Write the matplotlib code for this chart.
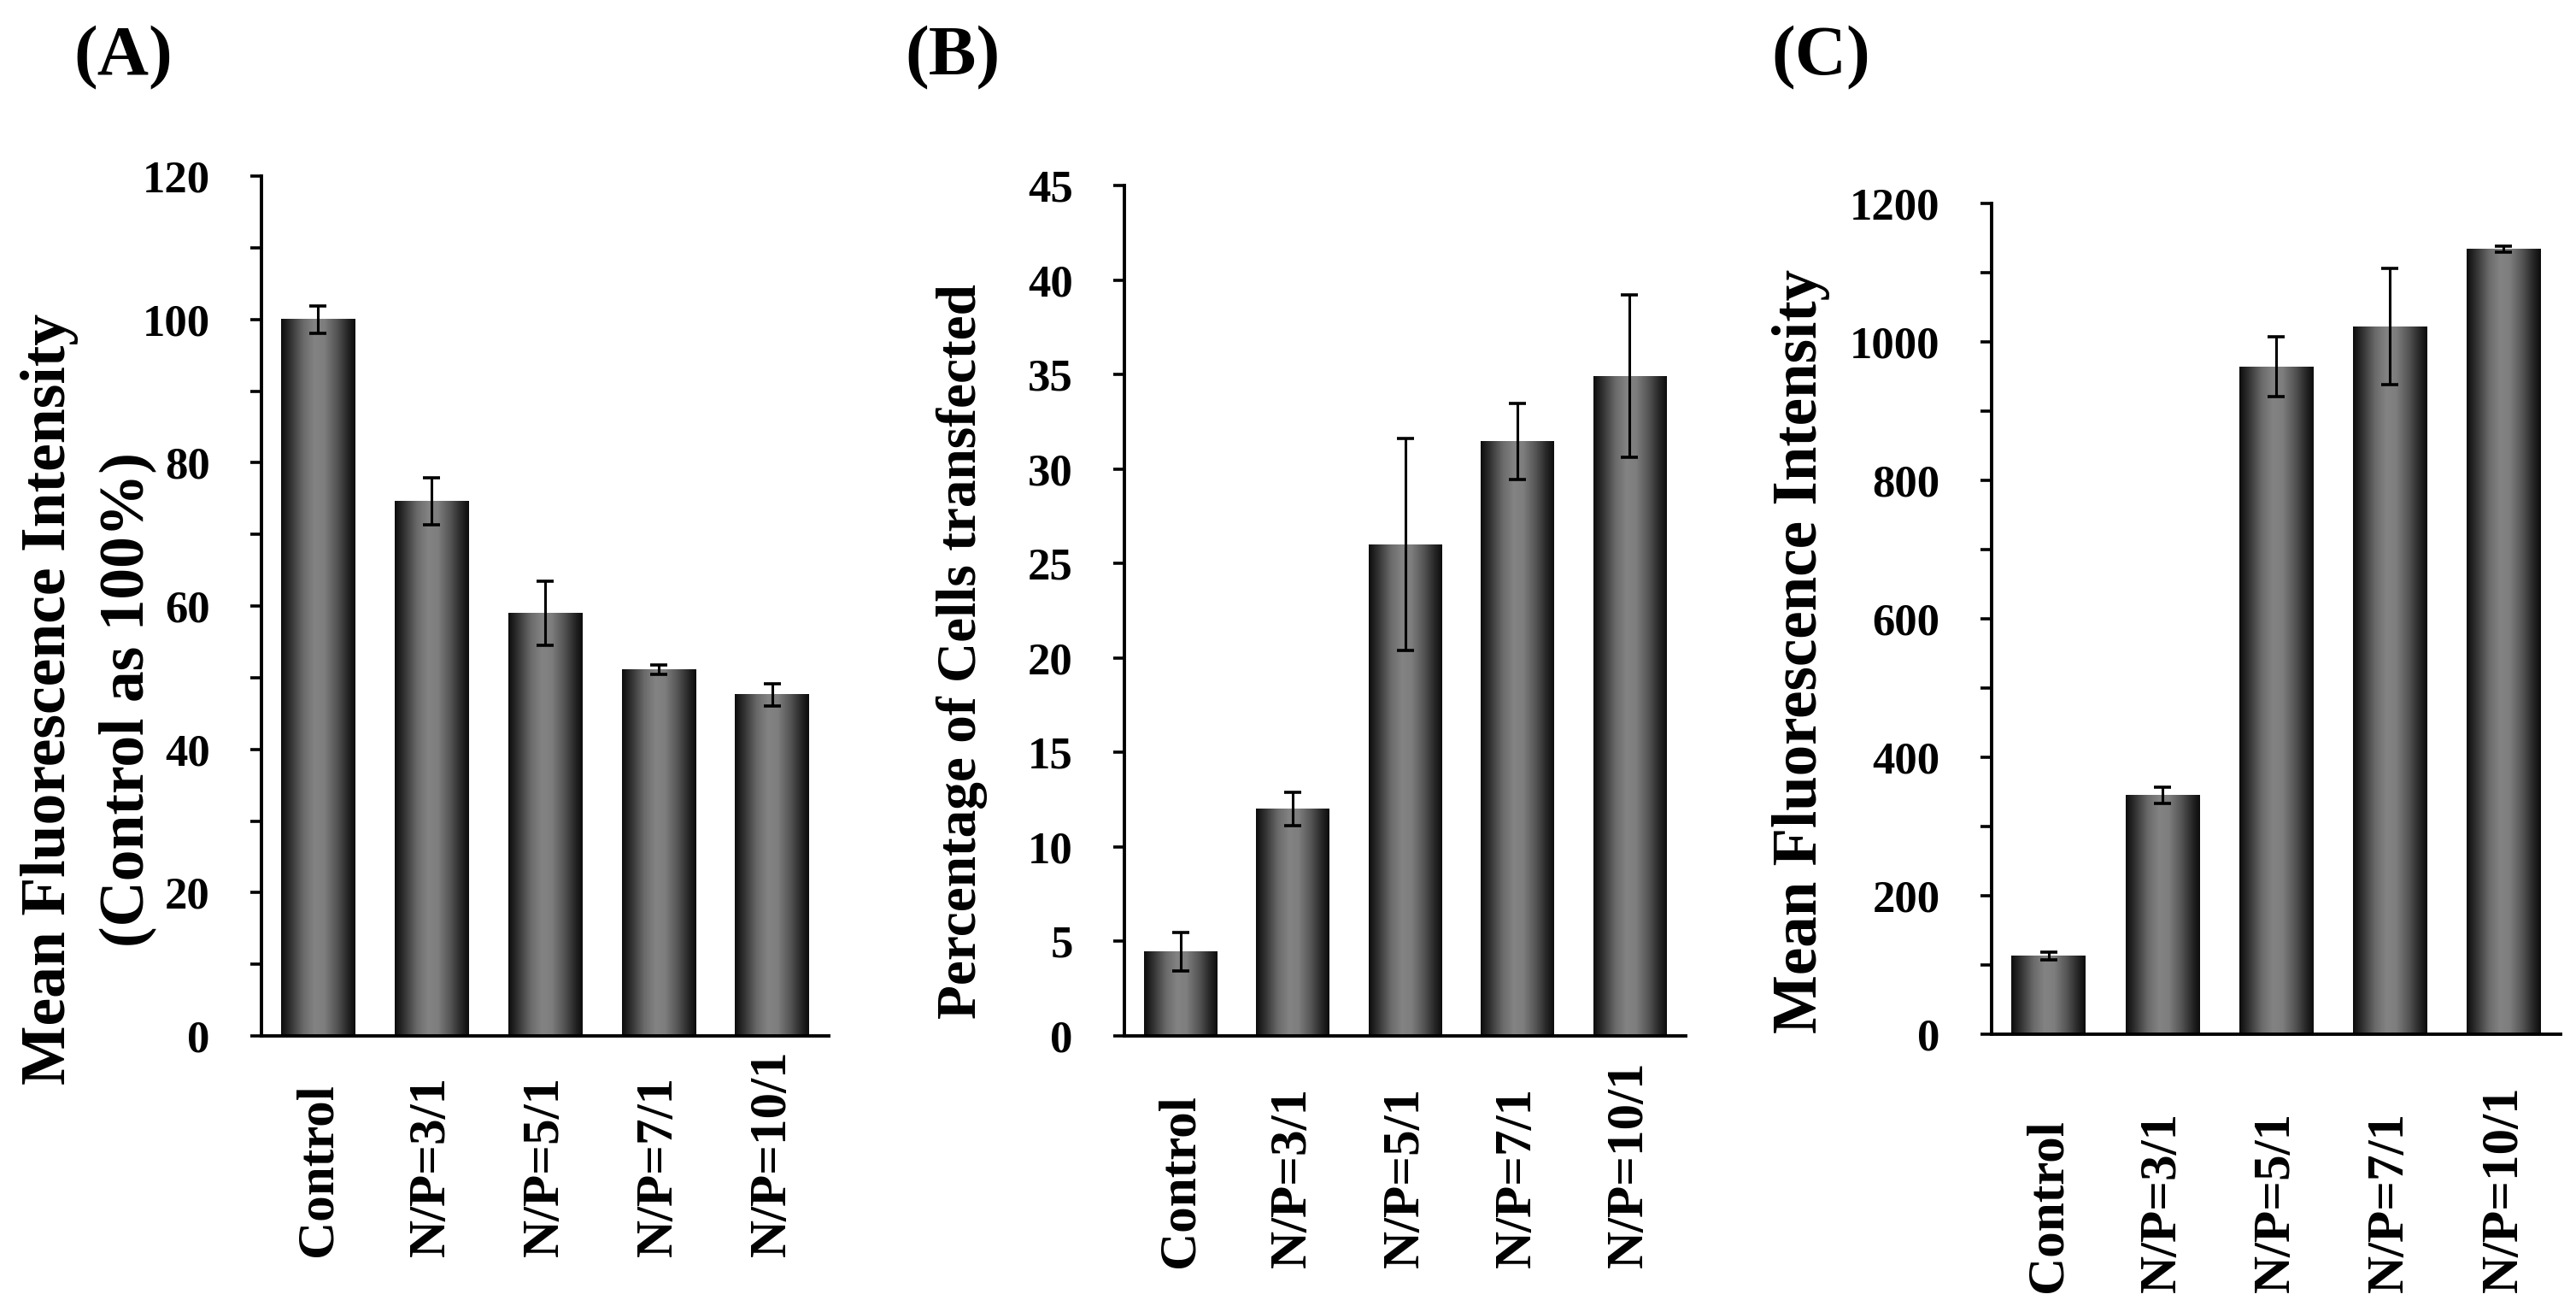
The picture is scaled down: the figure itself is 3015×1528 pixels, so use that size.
import numpy as np
import matplotlib
matplotlib.use('Agg')
import matplotlib.pyplot as plt
from matplotlib.colors import LinearSegmentedColormap
from matplotlib.ticker import MultipleLocator
import matplotlib.transforms as mtransforms

# ---------------- data ----------------
categories = ['Control', 'N/P=3/1', 'N/P=5/1', 'N/P=7/1', 'N/P=10/1']

mfi_relative = [100.0, 74.6, 59.0, 51.1, 47.6]
mfi_relative_err = [1.9, 3.3, 4.5, 0.7, 1.5]

pct_transfected = [4.45, 12.0, 26.0, 31.45, 34.9]
pct_transfected_err = [1.0, 0.87, 5.6, 2.0, 4.3]

mfi_absolute = [113, 345, 964, 1022, 1134]
mfi_absolute_err = [5, 12, 43, 84, 4]

panel_letters = ['(A)', '(B)', '(C)']
ylabels_a = ['Mean Fluorescence Intensity', '(Control as 100%)']
ylabel_b = 'Percentage of Cells transfected'
ylabel_c = 'Mean Fluorescence Intensity'

# ---------------- style ----------------
plt.rcParams['font.family'] = ['Liberation Serif', 'DejaVu Serif']
plt.rcParams['font.weight'] = 'bold'

W, H = 3015, 1528
fig = plt.figure(figsize=(W / 100, H / 100), dpi=100)
fig.patch.set_facecolor('white')


def px_axes(left, right, top, bottom):
    return fig.add_axes([left / W, 1 - bottom / H, (right - left) / W, (bottom - top) / H])


cmap = LinearSegmentedColormap.from_list(
    'cyl', [(0.0, '#0c0c0c'), (0.12, '#303030'), (0.30, '#6a6a6a'),
            (0.45, '#838383'), (0.58, '#7e7e7e'), (0.75, '#555555'),
            (0.90, '#262626'), (1.0, '#0c0c0c')])
grad = np.linspace(0, 1, 256).reshape(1, -1)

panels = [
    dict(pos=(306, 970, 206, 1212), vals=mfi_relative, errs=mfi_relative_err,
         ymax=120, major=20, minor=10, lab_y=-0.2565),
    dict(pos=(1316, 1973, 217, 1212), vals=pct_transfected, errs=pct_transfected_err,
         ymax=45, major=5, minor=None, lab_y=-0.2724),
    dict(pos=(2331, 2997, 238, 1210), vals=mfi_absolute, errs=mfi_absolute_err,
         ymax=1200, major=200, minor=100, lab_y=-0.3107),
]

x = np.arange(len(categories))
axes = []
for p in panels:
    ax = px_axes(*p['pos'])
    axes.append(ax)
    bars = ax.bar(x, p['vals'], width=0.65, color='#555555', edgecolor='none', zorder=1)
    for rect in bars:
        x0, w, h = rect.get_x(), rect.get_width(), rect.get_height()
        ax.imshow(grad, extent=(x0, x0 + w, 0, h), cmap=cmap, aspect='auto',
                  interpolation='bilinear', zorder=2)
    ax.errorbar(x, p['vals'], yerr=p['errs'], fmt='none', ecolor='black',
                elinewidth=2.2, capsize=7.5, capthick=2.6, zorder=4)
    ax.set_xlim(-0.5, len(categories) - 0.5)
    ax.set_ylim(0, p['ymax'])
    ax.yaxis.set_major_locator(MultipleLocator(p['major']))
    if p['minor']:
        ax.yaxis.set_minor_locator(MultipleLocator(p['minor']))
    for s in ['top', 'right']:
        ax.spines[s].set_visible(False)
    for s in ['left', 'bottom']:
        ax.spines[s].set_linewidth(2.8)
        ax.spines[s].set_color('black')
    ax.tick_params(axis='y', which='both', direction='out', length=9.5, width=2.6,
                   pad=34, labelsize=38, colors='black')
    ax.tick_params(axis='x', which='both', length=0, labelbottom=False)
    ax.set_facecolor('white')
    trans = mtransforms.blended_transform_factory(ax.transData, ax.transAxes)
    for xi, lab in zip(x, categories):
        ax.text(xi, p['lab_y'], lab, transform=trans, rotation=90, ha='center',
                va='bottom', fontsize=44, fontweight='bold', clip_on=False)

# y-axis labels
fig.text(58 / W, 1 - 818 / H, ylabels_a[0], rotation=90, ha='center', va='center',
         fontsize=53, fontweight='bold')
fig.text(149 / W, 1 - 818 / H, ylabels_a[1], rotation=90, ha='center', va='center',
         fontsize=53, fontweight='bold')
fig.text(1126 / W, 1 - 762 / H, ylabel_b, rotation=90, ha='center', va='center',
         fontsize=47, fontweight='bold')
fig.text(2108 / W, 1 - 762 / H, ylabel_c, rotation=90, ha='center', va='center',
         fontsize=52.5, fontweight='bold')

# panel letters
for lx, letter in zip([144, 1115, 2131], panel_letters):
    fig.text(lx / W, 1 - 68 / H, letter, ha='center', va='center',
             fontsize=60, fontweight='bold')

fig.savefig('out.png', dpi=100, facecolor='white')
